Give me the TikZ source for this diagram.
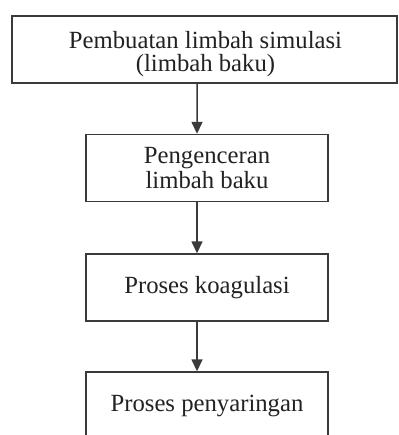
\documentclass[tikz,border=0pt]{standalone}
\usepackage{fontspec}
\setmainfont{Liberation Serif}
\usetikzlibrary{arrows.meta}
\definecolor{linec}{HTML}{3A3A3A}
\definecolor{textc}{HTML}{222222}
\tikzset{
  procbox/.style={draw=linec, line width=1.4bp, rectangle, inner sep=0pt,
    minimum height=67bp, align=center, text=textc,
    font=\fontsize{24.8}{25}\selectfont},
  boxtext/.style={inner sep=0pt, align=center, text=textc,
    font=\fontsize{24.8}{23}\selectfont},
  arr/.style={draw=linec, line width=1.5bp, -{Triangle[length=12bp,width=11bp]}}
}
\begin{document}
\begin{tikzpicture}[x=1bp,y=1bp]
\useasboundingbox (0,0) rectangle (398,-435);
\clip (0,0) rectangle (398,-435);
\fill[white] (0,0) rectangle (398,-435);
\node[procbox, minimum width=385bp] (b1) at (204.5,-49.5) {};
\node[boxtext] (b1t) at ([xshift=1bp,yshift=-5bp]b1.center) {Pembuatan limbah simulasi\\(limbah baku)};
\node[procbox, minimum width=242bp] (b2) at (207,-168) {Pengenceran\\limbah baku};
\node[procbox, minimum width=242bp] (b3) at (207,-287.5) {Proses koagulasi};
\node[procbox, minimum width=242bp, minimum height=68bp] (b4) at (207,-406) {Proses penyaringan};
\draw[arr] ([xshift=-7.5bp]b1.south) -- ([xshift=-10bp]b2.north);
\draw[arr] ([xshift=-10bp]b2.south) -- ([xshift=-10bp]b3.north);
\draw[arr] ([xshift=-10bp]b3.south) -- ([xshift=-10bp]b4.north);
\end{tikzpicture}
\end{document}
